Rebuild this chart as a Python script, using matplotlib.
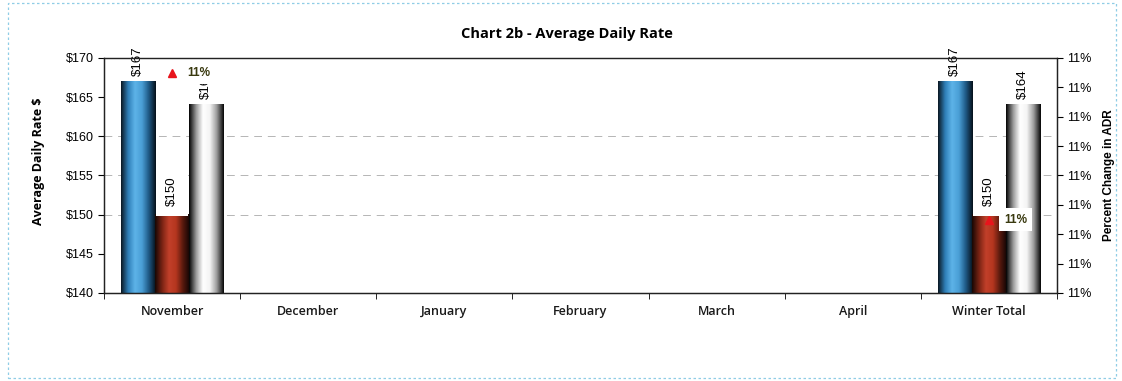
import numpy as np
import matplotlib
matplotlib.use("Agg")
import matplotlib.pyplot as plt
from matplotlib.colors import LinearSegmentedColormap
from matplotlib.patches import Rectangle
from matplotlib.ticker import FuncFormatter, MultipleLocator

months = ["November", "December", "January", "February", "March", "April", "Winter Total"]
adr_current = [167, np.nan, np.nan, np.nan, np.nan, np.nan, 167]
adr_prior = [150, np.nan, np.nan, np.nan, np.nan, np.nan, 150]
adr_average = [164, np.nan, np.nan, np.nan, np.nan, np.nan, 164]
pct_change = [0.1135, np.nan, np.nan, np.nan, np.nan, np.nan, 0.1085]

# cylinder-like shading, left edge -> right edge
shades = [
    LinearSegmentedColormap.from_list("blue", ["#0b1a26", "#2f7fb8", "#5db3e8", "#4a9fd6", "#1f5a86", "#06121c"]),
    LinearSegmentedColormap.from_list("red", ["#1a0804", "#7a2414", "#c2402a", "#b5361f", "#5a1a0e", "#120504"]),
    LinearSegmentedColormap.from_list("white", ["#050505", "#9a9a9a", "#ffffff", "#f4f4f4", "#9c9c9c", "#080808"]),
]

fig = plt.figure(figsize=(11.22, 3.81), dpi=100)
ax = fig.add_axes([0.0927, 0.231, 0.8493, 0.617])
ax2 = ax.twinx()

x = np.arange(len(months))
w = 0.25
grad = np.linspace(0, 1, 64).reshape(1, -1)
series = [adr_current, adr_prior, adr_average]
for i, vals in enumerate(series):
    bars = ax.bar(x + (i - 1) * w, vals, w, bottom=0, color="none", edgecolor="none")
    for b, v in zip(bars, vals):
        if np.isnan(v):
            continue
        x0 = b.get_x()
        ax.imshow(grad, cmap=shades[i], extent=(x0, x0 + w, 140, v), aspect="auto", zorder=2)

# value labels
for xi, v in zip(x, adr_current):
    if not np.isnan(v):
        ax.annotate(f"${v:.0f}", (xi - w, v), xytext=(0, 4), textcoords="offset points",
                    rotation=90, ha="center", va="bottom", fontsize=9.5,
                    family="Liberation Sans", zorder=4)
for xi, v in zip(x, adr_prior):
    if not np.isnan(v):
        ax.annotate(f"${v:.0f}", (xi, v), xytext=(0, 6), textcoords="offset points",
                    rotation=90, ha="center", va="bottom", fontsize=9.5,
                    family="Liberation Sans", zorder=4,
                    bbox=dict(boxstyle="square,pad=0.75", fc="white", ec="none"))
for xi, v in zip(x, adr_average):
    if not np.isnan(v):
        ax.annotate(f"${v:.0f}", (xi + w, v), xytext=(0, 4), textcoords="offset points",
                    rotation=90, ha="center", va="bottom", fontsize=9.5,
                    family="Liberation Sans", zorder=4)

ax.set_xlim(-0.5, len(months) - 0.5)
ax.set_ylim(140, 170)
ax.yaxis.set_major_locator(MultipleLocator(5))
ax.yaxis.set_major_formatter(FuncFormatter(lambda v, p: f"${v:.0f}"))
ax.set_xticks(x)
ax.set_xticklabels(months, family="Open Sans", fontsize=9, fontweight="semibold", color="#1a1a1a")
ax.set_xticks(np.arange(len(months) + 1) - 0.5, minor=True)
ax.tick_params(axis="x", which="major", length=0, pad=9)
ax.tick_params(axis="x", which="minor", length=4, direction="out")
ax.tick_params(axis="y", length=4, direction="out", labelsize=9)
for lbl in ax.get_yticklabels():
    lbl.set_family("Liberation Sans")
ax.set_axisbelow(True)
for yv in [150, 155, 160]:
    ax.axhline(yv, color="#b5b5b5", lw=0.7, ls=(0, (8, 6)), zorder=1)
ax.set_ylabel("Average Daily Rate $", family="Open Sans", fontweight="bold", fontsize=9)
ax.yaxis.set_label_coords(-0.062, 0.56)

# percent change markers on the secondary axis
ax2.set_ylim(0.106, 0.114)
ax2.yaxis.set_major_locator(MultipleLocator(0.001))
ax2.yaxis.set_major_formatter(FuncFormatter(lambda v, p: f"{v:.0%}"))
ax2.tick_params(axis="y", length=4, direction="out", labelsize=9)
for lbl in ax2.get_yticklabels():
    lbl.set_family("Liberation Sans")
ax2.plot(x, pct_change, ls="none", marker="^", color="#e8141c", ms=6, zorder=5)
for xi, p in zip(x, pct_change):
    if not np.isnan(p):
        ax2.annotate(f"{p:.0%}", (xi, p), xytext=(11, 0), textcoords="offset points",
                     ha="left", va="center", fontsize=8.5, fontweight="bold",
                     color="#3a3a10", family="Liberation Sans", zorder=6,
                     bbox=dict(boxstyle="square,pad=0.45", fc="white", ec="none"))
ax2.set_ylabel("Percent Change in ADR", family="Liberation Sans", fontweight="bold",
               fontsize=8.5, labelpad=8)

for a in (ax, ax2):
    for s in a.spines.values():
        s.set_color("#222222")
        s.set_linewidth(0.9)
ax.spines["top"].set_color("#555555")

fig.text(0.505, 0.91, "Chart 2b - Average Daily Rate", ha="center", va="center",
         family="Open Sans", fontweight="bold", fontsize=10.5)

fig.patches.append(Rectangle((0.007, 0.008), 0.988, 0.983, transform=fig.transFigure,
                             fill=False, ec="#8fcde6", lw=0.9, ls=(0, (2, 2))))

fig.savefig("out.png", dpi=100)
